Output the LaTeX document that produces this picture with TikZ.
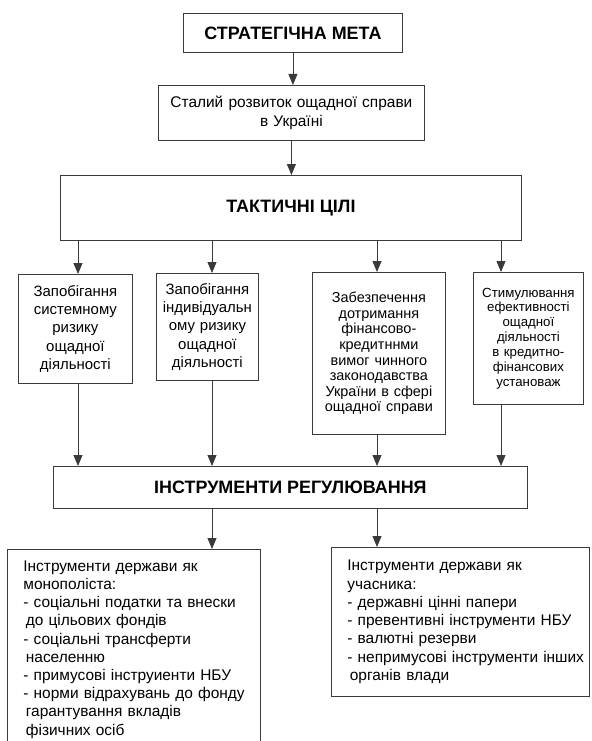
\documentclass[tikz,border=0pt]{standalone}
\usepackage{fontspec}
\setmainfont{Liberation Sans}
\usetikzlibrary{positioning,arrows.meta}
\definecolor{frameGray}{HTML}{3A3A3A}
\tikzset{
  box/.style={rectangle, draw=frameGray, line width=0.8bp, fill=white, text=black,
    anchor=north west, align=center, inner xsep=2bp, inner ysep=0bp},
  hdr/.style={box, font=\bfseries\fontsize{18}{21.6}\selectfont},
  goaltxt/.style={box, font=\fontsize{15.5}{18.3}\selectfont},
  aimtxt/.style={box, font=\fontsize{15}{18.3}\selectfont},
  lawtxt/.style={box, font=\fontsize{14.5}{15.7}\selectfont},
  stimtxt/.style={box, font=\fontsize{13.3}{14.9}\selectfont},
  tooltxt/.style={box, align=left, inner xsep=16bp, font=\fontsize{15.5}{18.3}\selectfont},
  arr/.style={-{Triangle[length=11bp,width=9bp]}, line width=0.8bp, frameGray},
}

\begin{document}
\begin{tikzpicture}[x=1bp, y=-1bp]
\path[use as bounding box, clip] (0,0) rectangle (592,741);

% ---------- strategic goal ----------
\node[hdr, minimum width=219bp, minimum height=39bp] (strat) at (183,13)
  {СТРАТЕГІЧНА МЕТА};
\node[goaltxt, minimum width=266bp, minimum height=55bp, text width=262bp] (goal) at (158,85)
  {Сталий розвиток ощадної справи\\в Україні};

% ---------- tactical goals ----------
\node[hdr, minimum width=461bp, minimum height=65bp] (tactic) at (60,175)
  {ТАКТИЧНІ ЦІЛІ};

\node[aimtxt, minimum width=114bp, minimum height=109bp, text width=110bp] (goal-sys) at (18,274)
  {Запобігання\\системному\\ризику\\ощадної\\діяльності};
\node[aimtxt, minimum width=102bp, minimum height=107bp, text width=98bp] (goal-ind) at (156,273)
  {Запобігання\\індивідуальн\\ому ризику\\ощадної\\діяльності};
\node[lawtxt, minimum width=133bp, minimum height=162bp, text width=129bp] (goal-law) at (312,272)
  {Забезпечення\\дотримання\\фінансово-\\кредитннми\\вимог чинного\\законодавства\\України в сфері\\ощадної справи};
\node[stimtxt, minimum width=110bp, minimum height=132bp, text width=106bp] (goal-stim) at (473,272)
  {Стимулювання\\ефективності\\ощадної\\діяльності\\в кредитно-\\фінансових\\установаж};

% ---------- regulation tools ----------
\node[hdr, minimum width=474bp, minimum height=42bp] (instr) at (53,466)
  {ІНСТРУМЕНТИ РЕГУЛЮВАННЯ};

\node[tooltxt, minimum width=253bp, minimum height=200bp, text width=221bp] (instr-mono) at (7,549)
  {Інструменти держави як\\
   монополіста:\\
   \mbox{- соціальні податки та внески}\\
   \hspace*{2.5bp}до цільових фондів\\
   - соціальні трансферти\\
   \hspace*{2.5bp}населенню\\
   - примусові інструиенти НБУ\\
   \mbox{- норми відрахувань до фонду}\\
   \hspace*{2.5bp}гарантування вкладів\\
   \hspace*{2.5bp}фізичних осіб};
\node[tooltxt, minimum width=258bp, minimum height=149bp, text width=226bp] (instr-part) at (331,547)
  {Інструменти держави як\\
   учасника:\\
   - державні цінні папери\\
   \mbox{- превентивні інструменти НБУ}\\
   - валютні резерви\\
   \mbox{- непримусові інструменти інших}\\
   \hspace*{2.5bp}органів влади};

% ================= Connectors =================
\coordinate (col-a) at (78,0);
\coordinate (col-b) at (212,0);
\coordinate (col-c) at (377,0);
\coordinate (col-d) at (501,0);

\draw[arr] (strat.south) -- (strat.south |- goal.north);
\draw[arr] (goal.south) -- (goal.south |- tactic.north);

% tactical level -> goals
\draw[arr] (tactic.south -| col-a) -- (goal-sys.north -| col-a);
\draw[arr] (tactic.south -| col-b) -- (goal-ind.north -| col-b);
\draw[arr] (tactic.south -| col-c) -- (goal-law.north -| col-c);
\draw[arr] (tactic.south -| col-d) -- (goal-stim.north -| col-d);

% goals -> tools
\draw[arr] (goal-sys.south -| col-a) -- (instr.north -| col-a);
\draw[arr] (goal-ind.south -| col-b) -- (instr.north -| col-b);
\draw[arr] (goal-law.south -| col-c) -- (instr.north -| col-c);
\draw[arr] (goal-stim.south -| col-d) -- (instr.north -| col-d);

% tools -> groups of tools
\draw[arr] (instr.south -| col-b) -- (instr-mono.north -| col-b);
\draw[arr] (instr.south -| col-c) -- (instr-part.north -| col-c);

\end{tikzpicture}
\end{document}
